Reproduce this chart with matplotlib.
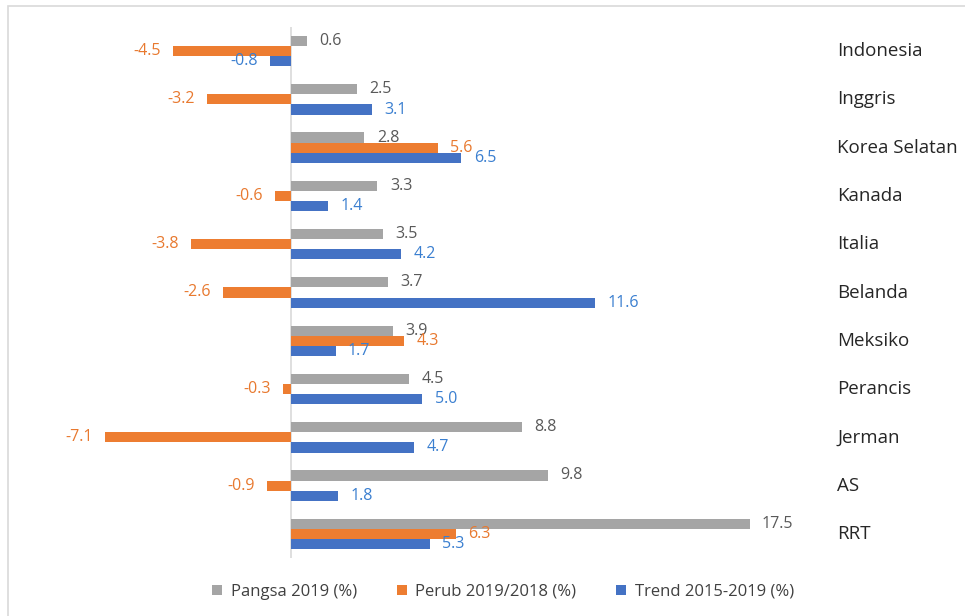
import matplotlib
matplotlib.use("Agg")
import matplotlib.pyplot as plt
import matplotlib.transforms as mtransforms
from matplotlib.patches import Rectangle
import numpy as np

countries = ["Indonesia", "Inggris", "Korea Selatan", "Kanada", "Italia", "Belanda",
             "Meksiko", "Perancis", "Jerman", "AS", "RRT"]
pangsa = [0.6, 2.5, 2.8, 3.3, 3.5, 3.7, 3.9, 4.5, 8.8, 9.8, 17.5]
perub = [-4.5, -3.2, 5.6, -0.6, -3.8, -2.6, 4.3, -0.3, -7.1, -0.9, 6.3]
trend = [-0.8, 3.1, 6.5, 1.4, 4.2, 11.6, 1.7, 5.0, 4.7, 1.8, 5.3]
series_names = ["Pangsa 2019 (%)", "Perub 2019/2018 (%)", "Trend 2015-2019 (%)"]

plt.rcParams['font.family'] = ['Open Sans', 'DejaVu Sans']

bar_colors = ["#A5A5A5", "#ED7D31", "#4472C4"]
label_colors = ["#595959", "#E8792F", "#3A7FD0"]

W, H = 965, 616
fig = plt.figure(figsize=(W / 100, H / 100), dpi=100)
zero_px = 291
ppu = 26.2
xmin, xmax = -9.6, 20.0
left_px = zero_px + xmin * ppu
right_px = zero_px + xmax * ppu
top_px, bot_px = 27, 558
ax = fig.add_axes([left_px / W, 1 - bot_px / H, (right_px - left_px) / W, (bot_px - top_px) / H])
ax.set_xlim(xmin, xmax)
ax.set_ylim(len(countries) - 0.5, -0.5)

y = np.arange(len(countries))
h = 0.21
offsets = [-h, 0, h]
for vals, off, bc, lc, name in zip([pangsa, perub, trend], offsets, bar_colors, label_colors, series_names):
    ax.barh(y + off, vals, height=h, color=bc, label=name, zorder=2)
    for yy, v in zip(y + off, vals):
        if v >= 0:
            ax.annotate(f"{v:.1f}", (v, yy), xytext=(9, 0), textcoords="offset points",
                        ha="left", va="center", color=lc, fontsize=11.5)
        else:
            ax.annotate(f"{v:.1f}", (v, yy), xytext=(-9, 0), textcoords="offset points",
                        ha="right", va="center", color=lc, fontsize=11.5)

ax.axvline(0, color="#D9D9D9", lw=1.2, zorder=1)
for s in ax.spines.values():
    s.set_visible(False)
ax.set_xticks([])
ax.set_yticks([])

tr = mtransforms.blended_transform_factory(fig.transFigure, ax.transData)
for yy, c in zip(y, countries):
    ax.text(837 / W, yy, c, transform=tr, ha="left", va="center", fontsize=13.5, color="#262626")

handles, labels = ax.get_legend_handles_labels()
fig.legend(handles, labels, loc="center", bbox_to_anchor=(503 / W, 1 - 592 / H), ncol=3,
           frameon=False, fontsize=12, handlelength=0.6, handleheight=0.6,
           columnspacing=2.4, handletextpad=0.5, labelcolor="#404040")

fig.patches.append(Rectangle((8 / W, -0.01), 1.0, 1 - 6 / H + 0.01, transform=fig.transFigure,
                             fill=False, edgecolor="#D9D9D9", lw=1.2))

fig.savefig("out.png", dpi=100)
